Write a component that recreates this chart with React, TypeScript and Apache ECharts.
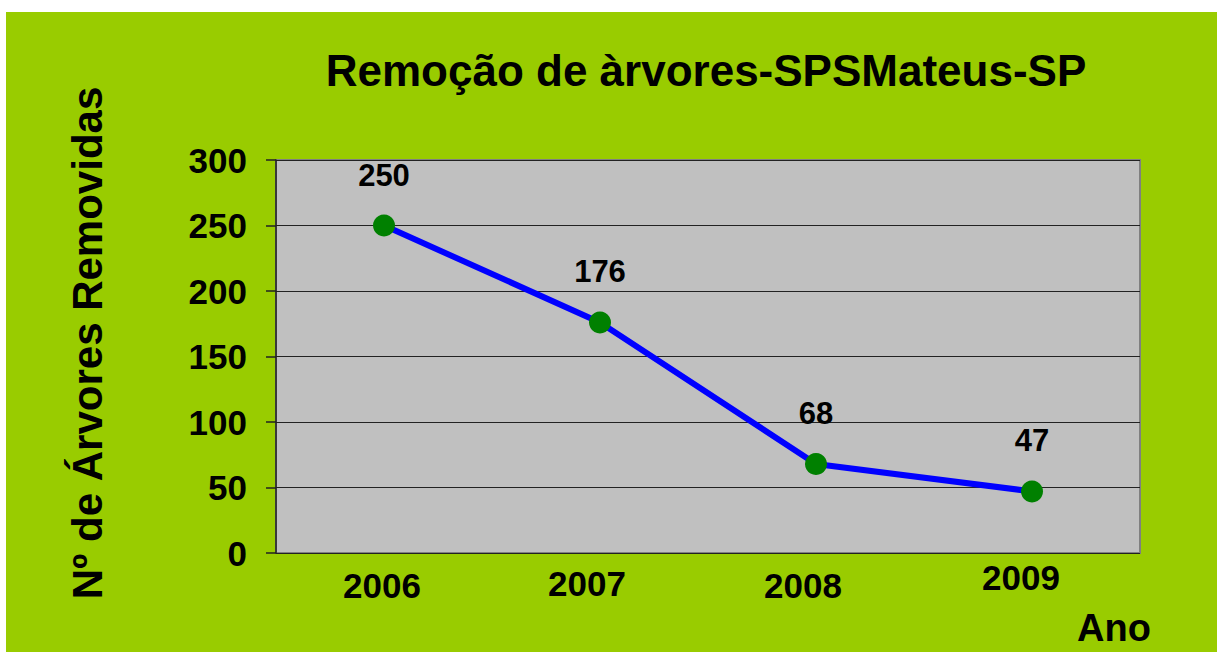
import React, { useEffect, useRef } from "react";
import * as echarts from "echarts";

const categories = ["2006", "2007", "2008", "2009"];
const values = [250, 176, 68, 47];
const yTicks = { min: 0, max: 300, interval: 50 };
const titleText = "Remoção de àrvores-SPSMateus-SP";
const yAxisName = "Nº de Árvores Removidas";
const xAxisName = "Ano";

// per-label padding [top, right, bottom, left] to mimic the original's label placement
const labelPadding = [
  [8, 4, 0, 0],
  [6, 26, 0, 0],
  [8, 26, 0, 0],
  [0, 22, 0, 0],
];

const FONT = "'Liberation Sans', Arial, Helvetica, sans-serif";

export default function App() {
  const ref = useRef<HTMLDivElement>(null);
  useEffect(() => {
    document.body.style.margin = "0";
    const chart = echarts.init(ref.current!, undefined, { renderer: "svg" });
    chart.setOption({
      animation: false,
      backgroundColor: "#ffffff",
      graphic: [
        {
          type: "rect",
          z: -10,
          silent: true,
          shape: { x: 6, y: 12, width: 1211, height: 640 },
          style: { fill: "#99cc00" },
        },
        {
          type: "text",
          x: 706,
          y: 70,
          style: {
            text: titleText,
            fill: "#000",
            font: `bold 44px ${FONT}`,
            align: "center",
            verticalAlign: "middle",
          },
        },
        {
          type: "text",
          x: 87,
          y: 343,
          rotation: Math.PI / 2,
          style: {
            text: yAxisName,
            fill: "#000",
            font: `bold 42px ${FONT}`,
            align: "center",
            verticalAlign: "middle",
          },
        },
        {
          type: "text",
          x: 1114,
          y: 628,
          style: {
            text: xAxisName,
            fill: "#000",
            font: `bold 38px ${FONT}`,
            align: "center",
            verticalAlign: "middle",
          },
        },
      ],
      grid: {
        left: 276,
        top: 160,
        width: 864,
        height: 393,
        show: true,
        backgroundColor: "#c0c0c0",
        borderColor: "#808080",
        borderWidth: 2,
      },
      xAxis: {
        type: "category",
        data: categories.map((c, i) => ({
          value: c,
          textStyle: { padding: labelPadding[i] },
        })),
        boundaryGap: true,
        axisLine: { show: false },
        axisTick: { show: false },
        axisLabel: {
          margin: 7,
          color: "#000",
          fontFamily: FONT,
          fontWeight: "bold",
          fontSize: 35,
        },
      },
      yAxis: {
        type: "value",
        min: yTicks.min,
        max: yTicks.max,
        interval: yTicks.interval,
        axisLine: { show: true, lineStyle: { color: "#222", width: 1.5 } },
        axisTick: { show: true, length: 10, lineStyle: { color: "#222", width: 1.5 } },
        splitLine: { show: true, lineStyle: { color: "#222", width: 1 } },
        axisLabel: {
          margin: 29,
          color: "#000",
          fontFamily: FONT,
          fontWeight: "bold",
          fontSize: 35,
        },
      },
      series: [
        {
          type: "line",
          data: values,
          lineStyle: { color: "#0000ff", width: 6 },
          symbol: "circle",
          symbolSize: 22,
          itemStyle: { color: "#008000" },
          label: {
            show: true,
            position: "top",
            distance: 24,
            color: "#000",
            fontFamily: FONT,
            fontWeight: "bold",
            fontSize: 31,
          },
        },
      ],
    });
    return () => chart.dispose();
  }, []);
  return <div ref={ref} style={{ width: 1217, height: 652 }} />;
}
